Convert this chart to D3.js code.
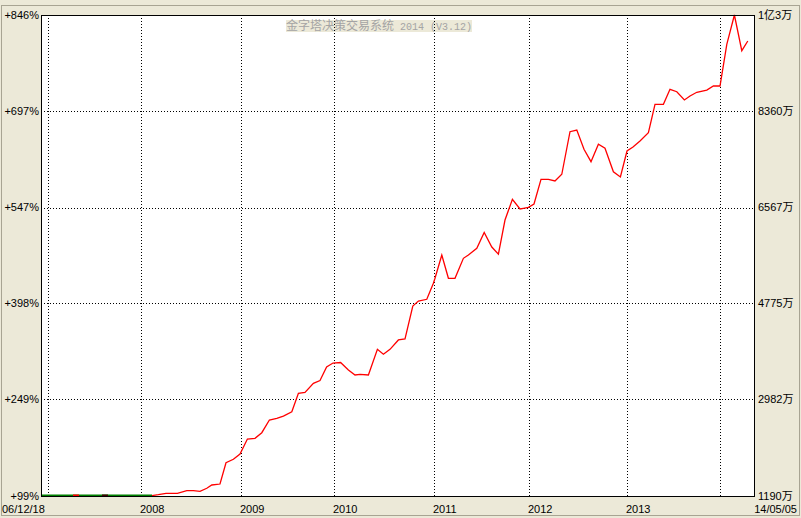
<!DOCTYPE html>
<html><head><meta charset="utf-8">
<script src="https://cdn.jsdelivr.net/npm/d3@7"></script>
<style>
html,body{margin:0;padding:0;background:#ECE9D8;}
svg{display:block;}
text{font-family:"Liberation Sans",Arial,sans-serif;font-size:11px;fill:#000;}
</style></head>
<body>
<script>
// ---- data ----
const titleCJK = "金字塔决策交易系统";
const titleAscii = " 2014 (V3.12)";
const startDate = "06/12/18";
const endDate = "14/05/05";
const leftTickValues = [99, 249, 398, 547, 697, 846];
const leftTickLabels = ["+99%", "+249%", "+398%", "+547%", "+697%", "+846%"];
const rightTickLabels = ["1190万", "2982万", "4775万", "6567万", "8360万", "1亿3万"];
const yearBars = [3.5, 50, 100, 146.5, 196.5, 244, 293, 339.5];
const yearLabels = ["", "2008", "2009", "2010", "2011", "2012", "2013", ""];
const totalBars = 356.5;
// flat (no-position) phase
const flatBars = [0, 55.5];
const flatValue = 99;
const blipBars = [[16, 19, "#ff0000"], [30.5, 33.5, "#400000"]];
// equity curve
const barIndex = [55.5,58.7,62.5,68.2,72.9,76.2,79.5,82.9,85.4,89.5,92.5,96.2,99.5,103.2,107,110.4,114.2,117.9,121.2,125.4,128.7,132,136.2,139.5,142.8,146,149.8,153.7,157,159.5,163.7,168.2,171.2,174.5,178.7,182,185.9,188.7,192.9,196.2,197,200.4,203.7,207,211.2,213.7,217.9,221.6,225.4,228.7,232,235.7,239.5,241.2,243.7,246.5,250,253.7,257,260.4,264.5,267.9,271.5,275,278.7,282,286.2,289.7,293,296,299.5,303.7,307,311.2,314.5,317.9,321.7,324.5,327.9,332.9,336.2,339.5,342.9,346.7,350.4,353.4];
const equityPct = [99.5,101.0,103.2,103.2,107.2,107.2,106.3,111.0,116.1,117.6,150.7,156.0,164.2,187.5,188.6,197.3,217.0,219.7,223.2,229.9,258.5,260.0,274.0,278.4,299.3,305.5,306.3,294.7,286.9,288.0,286.9,326.8,319.1,326.8,341.3,342.8,394.1,401.8,404.5,429.3,437.1,473.3,437.1,437.1,468.1,473.3,483.7,508.2,485.7,474.5,527.6,559.8,544.7,545.8,547.4,552.5,590.8,590.8,588.2,598.6,664.8,667.4,637.4,618.2,645.2,639.0,602.6,594.4,634.8,641.0,650.3,663.2,707.3,707.3,730.6,726.9,714.0,720.2,726.0,729.5,735.7,735.7,800.5,846,790.6,805.6];

// ---- layout ----
const W = 801, H = 518;
const L = 41, R = 754, T = 15, B = 496;
const bg = "#ECE9D8";

const svg = d3.select("body").append("svg").attr("width", W).attr("height", H);
svg.append("rect").attr("width", W).attr("height", H).attr("fill", bg);
svg.append("rect").attr("x", 1.5).attr("y", 5.5).attr("width", W - 3).attr("height", H - 8)
  .attr("fill", "none").attr("stroke", "#A8A493");

const x = d3.scaleLinear().domain([0, totalBars]).range([L, R]);
const y = d3.scaleLinear().domain([99, 846]).range([B, T]);

svg.append("rect").attr("x", L).attr("y", T).attr("width", R - L).attr("height", B - T).attr("fill", "#fff");

// title
const title = svg.append("text").attr("x", 379).attr("y", 30).attr("text-anchor", "middle");
title.append("tspan").text(titleCJK).style("font-family", "'Noto Sans CJK SC'").style("font-size", "12px").attr("fill", "#A4A4A4");
title.append("tspan").text(titleAscii).style("font-family", "'Liberation Mono',monospace").style("font-size", "10px").attr("fill", "#A4A4A4");
const bb = title.node().getBBox();
svg.insert("rect", "text").attr("x", bb.x).attr("y", 20).attr("width", bb.width).attr("height", 12).attr("fill", bg);

// grid
const grid = svg.append("g").attr("stroke", "#000").attr("stroke-dasharray", "1,2").attr("shape-rendering", "crispEdges");
grid.selectAll("line.h").data(leftTickValues.slice(1, -1)).join("line")
  .attr("x1", L).attr("x2", R).attr("y1", d => Math.round(y(d)) + 0.5).attr("y2", d => Math.round(y(d)) + 0.5);
grid.selectAll("line.v").data(yearBars).join("line")
  .attr("y1", T).attr("y2", B).attr("x1", d => Math.round(x(d)) + 0.5).attr("x2", d => Math.round(x(d)) + 0.5);

// lines
svg.append("line").attr("x1", x(flatBars[0])).attr("x2", x(flatBars[1]))
  .attr("y1", y(flatValue) - 0.5).attr("y2", y(flatValue) - 0.5).attr("stroke", "#008000").attr("stroke-width", 2);
svg.selectAll("line.blip").data(blipBars).join("line")
  .attr("x1", d => x(d[0])).attr("x2", d => x(d[1]))
  .attr("y1", y(flatValue) - 0.5).attr("y2", y(flatValue) - 0.5).attr("stroke", d => d[2]).attr("stroke-width", 2);

const line = d3.line().x((d, i) => x(barIndex[i])).y(d => y(d));
svg.append("path").datum(equityPct).attr("d", line).attr("fill", "none").attr("stroke", "#ff0000").attr("stroke-width", 1.3);

// frame
svg.append("rect").attr("x", L + 0.5).attr("y", T + 0.5).attr("width", R - L).attr("height", B - T)
  .attr("fill", "none").attr("stroke", "#000").attr("shape-rendering", "crispEdges");
svg.append("line").attr("x1", L).attr("x2", L).attr("y1", T).attr("y2", B + 1).attr("stroke", "#000").attr("shape-rendering", "crispEdges");

// axis labels
svg.selectAll("text.l").data(leftTickValues).join("text").attr("class", "l")
  .attr("x", L - 2).attr("y", d => y(d)).attr("dy", "0.35em").attr("text-anchor", "end")
  .text((d, i) => leftTickLabels[i]);
svg.selectAll("text.r").data(leftTickValues).join("text").attr("class", "r")
  .attr("x", R + 4).attr("y", d => y(d)).attr("dy", "0.35em")
  .style("font-family", "'Liberation Sans','Noto Sans CJK SC'")
  .text((d, i) => rightTickLabels[i]);
svg.selectAll("text.yr").data(yearBars).join("text").attr("class", "yr")
  .attr("x", d => Math.round(x(d)) - 1).attr("y", 509.5).attr("dy", "0.35em")
  .text((d, i) => yearLabels[i]);
svg.append("text").attr("x", 2).attr("y", 509.5).attr("dy", "0.35em").text(startDate);
svg.append("text").attr("x", 797).attr("y", 509.5).attr("dy", "0.35em").attr("text-anchor", "end").text(endDate);
</script>
</body></html>
